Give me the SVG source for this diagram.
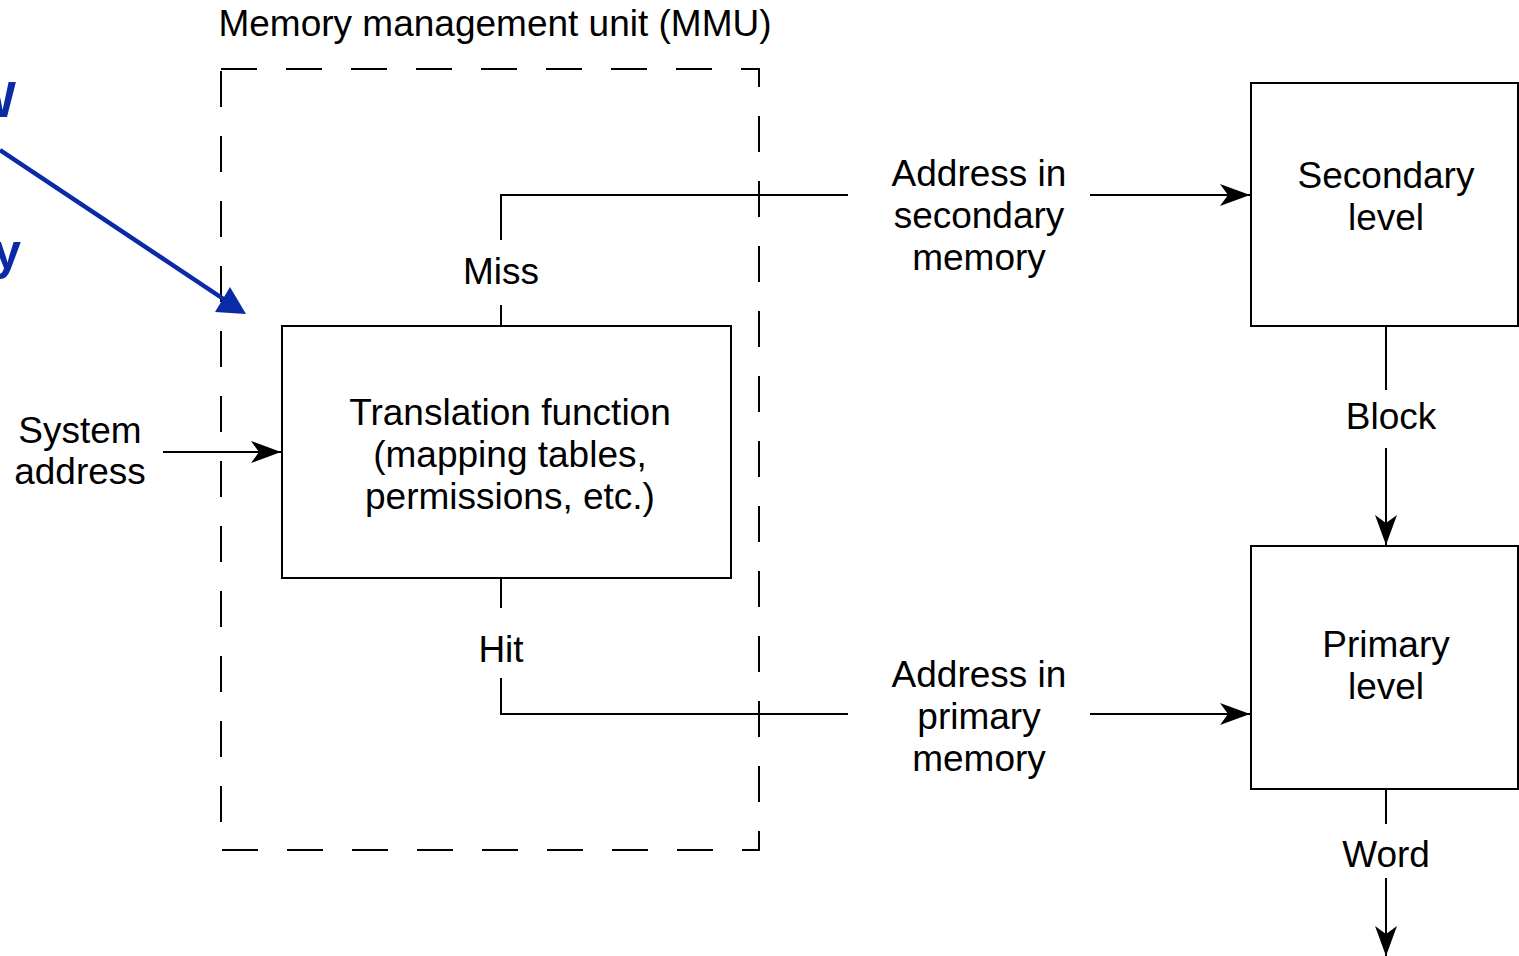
<svg xmlns="http://www.w3.org/2000/svg" width="1519" height="956" viewBox="0 0 1519 956">
<style>
.t{font-family:"Liberation Sans",Arial,sans-serif;font-size:37px;fill:#000;text-anchor:middle}
.box{fill:#fff;stroke:#000;stroke-width:2}
.ln{fill:none;stroke:#000;stroke-width:2}
.blue{font-family:"Liberation Sans",Arial,sans-serif;font-size:50px;font-weight:bold;fill:#0a2aa6;text-anchor:end}
</style>
<defs>
<marker id="ah" markerUnits="userSpaceOnUse" markerWidth="32" markerHeight="24" refX="30" refY="11" orient="auto" viewBox="0 0 32 24">
<path d="M0,0 L30,11 L0,22 L8,11 z" fill="#000"/>
</marker>
</defs>
<rect width="1519" height="956" fill="#fff"/>
<text class="blue" x="16" y="117">W</text>
<text class="blue" x="21" y="269">y</text>
<g id="mmu">
<path d="M221,69 H759 V850 H221 Z" fill="none" stroke="#000" stroke-width="2" stroke-dasharray="36 29"/>
<text class="t" x="495" y="36">Memory management unit (MMU)</text>
</g>
<g id="connectors">
<polyline class="ln" points="501,326 501,305"/>
<polyline class="ln" points="501,240 501,195 848,195"/>
<line class="ln" x1="1090" y1="195" x2="1250" y2="195" marker-end="url(#ah)"/>
<polyline class="ln" points="501,578 501,608"/>
<polyline class="ln" points="501,678 501,714 848,714"/>
<line class="ln" x1="1090" y1="714" x2="1250" y2="714" marker-end="url(#ah)"/>
<line class="ln" x1="163" y1="452" x2="281" y2="452" marker-end="url(#ah)"/>
<line class="ln" x1="1386" y1="326" x2="1386" y2="390"/>
<line class="ln" x1="1386" y1="448" x2="1386" y2="545" marker-end="url(#ah)"/>
<line class="ln" x1="1386" y1="789" x2="1386" y2="824"/>
<line class="ln" x1="1386" y1="878" x2="1386" y2="956" marker-end="url(#ah)"/>
<line x1="0" y1="150" x2="228" y2="302" stroke="#0a2aa6" stroke-width="4.5"/>
<polygon points="230,287 215,312 246,314" fill="#0a2aa6"/>
<text class="t" x="501" y="284">Miss</text>
<text class="t" x="501" y="662">Hit</text>
<text class="t" x="979" y="186">Address in</text>
<text class="t" x="979" y="228">secondary</text>
<text class="t" x="979" y="270">memory</text>
<text class="t" x="979" y="687">Address in</text>
<text class="t" x="979" y="729">primary</text>
<text class="t" x="979" y="771">memory</text>
<text class="t" x="80" y="443">System</text>
<text class="t" x="80" y="484">address</text>
<text class="t" x="1391" y="429">Block</text>
<text class="t" x="1386" y="867">Word</text>
</g>
<g id="translation">
<rect class="box" x="282" y="326" width="449" height="252"/>
<text class="t" x="510" y="425">Translation function</text>
<text class="t" x="510" y="467">(mapping tables,</text>
<text class="t" x="510" y="509">permissions, etc.)</text>
</g>
<g id="secondary">
<rect class="box" x="1251" y="83" width="267" height="243"/>
<text class="t" x="1386" y="188">Secondary</text>
<text class="t" x="1386" y="230">level</text>
</g>
<g id="primary">
<rect class="box" x="1251" y="546" width="267" height="243"/>
<text class="t" x="1386" y="657">Primary</text>
<text class="t" x="1386" y="699">level</text>
</g>
</svg>
